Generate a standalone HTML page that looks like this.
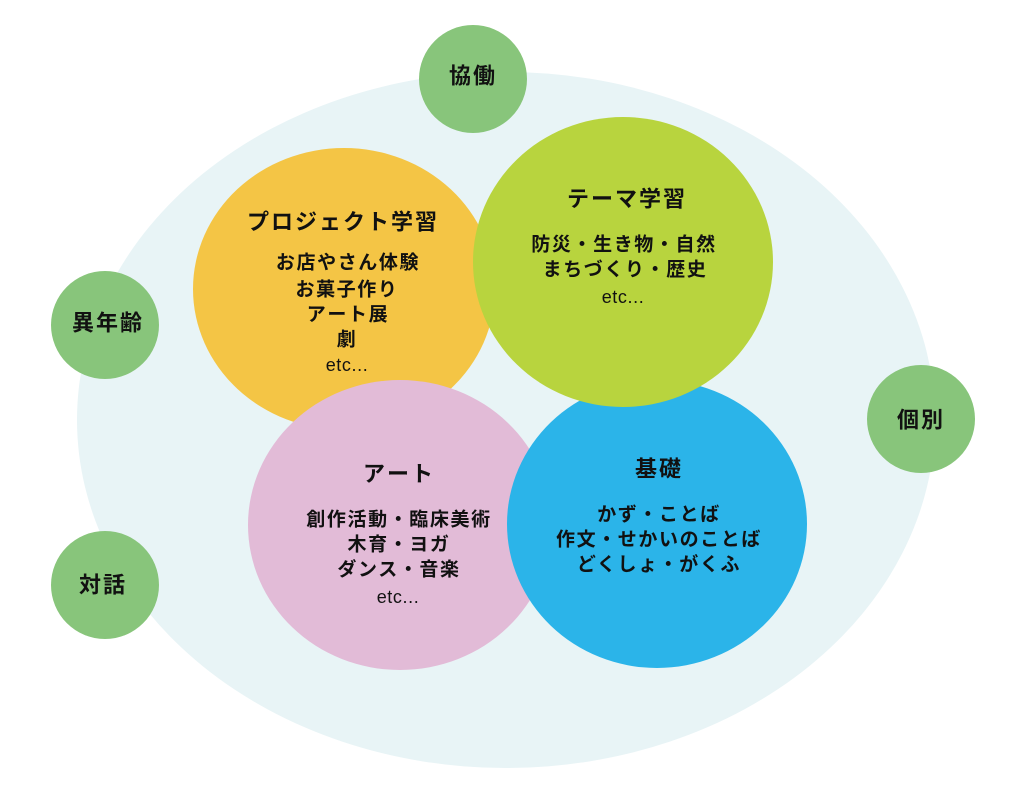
<!DOCTYPE html>
<html lang="ja">
<head>
<meta charset="utf-8">
<style>
  html, body { margin: 0; padding: 0; background: #ffffff; }
  body { width: 1024px; height: 804px; overflow: hidden; }
  svg { display: block; }
  text { font-family: "Liberation Sans", "Noto Sans CJK JP", sans-serif; fill: #111; text-anchor: middle; dominant-baseline: central; }
  .t { font-size: 22px; font-weight: 700; letter-spacing: 2px; }
  .b { font-size: 19px; font-weight: 700; letter-spacing: 1.6px; }
  .e { font-size: 18px; font-weight: 400; letter-spacing: 0.6px; }
  .s { font-size: 22px; font-weight: 700; letter-spacing: 2px; }
</style>
</head>
<body>
<svg width="1024" height="804" viewBox="0 0 1024 804" xmlns="http://www.w3.org/2000/svg">
  <!-- big background ellipse -->
  <ellipse cx="506" cy="420" rx="429" ry="348" fill="#E8F4F6"/>

  <!-- small green circles -->
  <circle cx="473" cy="79" r="54" fill="#88C57B"/>
  <circle cx="105" cy="325" r="54" fill="#88C57B"/>
  <circle cx="105" cy="585" r="54" fill="#88C57B"/>
  <circle cx="921" cy="419" r="54" fill="#88C57B"/>

  <!-- colored circles: order orange, pink, blue, green -->
  <ellipse cx="344" cy="289" rx="151" ry="141" fill="#F4C545"/>
  <ellipse cx="400" cy="525" rx="152" ry="145" fill="#E2BBD7"/>
  <ellipse cx="657" cy="524" rx="150" ry="144" fill="#2BB4E9"/>
  <ellipse cx="623" cy="262" rx="150" ry="145" fill="#B8D43E"/>

  <!-- small labels -->
  <text class="s" x="473" y="76">協働</text>
  <text class="s" x="108" y="323">異年齢</text>
  <text class="s" x="103" y="585">対話</text>
  <text class="s" x="921" y="420">個別</text>

  <!-- project -->
  <text class="t" x="343" y="222">プロジェクト学習</text>
  <text class="b" x="348" y="263">お店やさん体験</text>
  <text class="b" x="347" y="290">お菓子作り</text>
  <text class="b" x="348" y="315">アート展</text>
  <text class="b" x="347" y="340">劇</text>
  <text class="e" x="347" y="365">etc...</text>

  <!-- theme -->
  <text class="t" x="627" y="199">テーマ学習</text>
  <text class="b" x="624" y="245">防災・生き物・自然</text>
  <text class="b" x="625" y="270">まちづくり・歴史</text>
  <text class="e" x="623" y="297">etc...</text>

  <!-- art -->
  <text class="t" x="399" y="474">アート</text>
  <text class="b" x="399" y="520">創作活動・臨床美術</text>
  <text class="b" x="399" y="545">木育・ヨガ</text>
  <text class="b" x="399" y="570">ダンス・音楽</text>
  <text class="e" x="398" y="597">etc...</text>

  <!-- basics -->
  <text class="t" x="659" y="469">基礎</text>
  <text class="b" x="659" y="515">かず・ことば</text>
  <text class="b" x="659" y="540">作文・せかいのことば</text>
  <text class="b" x="659" y="565">どくしょ・がくふ</text>
</svg>
</body>
</html>
